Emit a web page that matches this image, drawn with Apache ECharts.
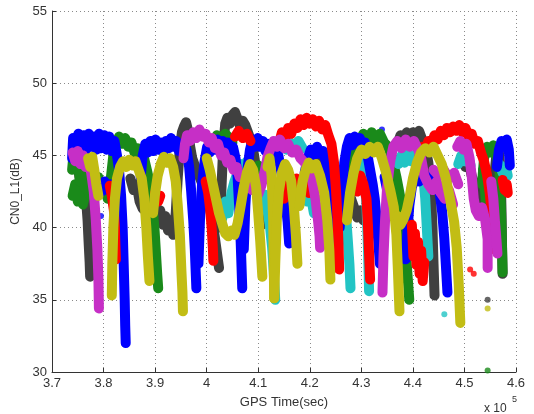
<!DOCTYPE html>
<html>
<head>
<meta charset="utf-8">
<title>CN0_L1</title>
<script src="https://cdn.jsdelivr.net/npm/echarts@6/dist/echarts.min.js"></script>
<style>
  html, body { margin: 0; padding: 0; background: #fff; }
  #chart { width: 534px; height: 414px; }
</style>
</head>
<body>
<div id="chart"></div>
<script>
// axis ticks (x in units of 1e5 sec)
var xTickLabels = ['3.7', '3.8', '3.9', '4', '4.1', '4.2', '4.3', '4.4', '4.5', '4.6'];
var yTickLabels = ['30', '35', '40', '45', '50', '55'];

// one array per colour, each pass of a satellite is a list of [time, cn0]
var grayPasses = [
  [[3.750,44.2],[3.754,43.4],[3.758,44.0],[3.762,42.8],[3.766,42.0],[3.769,40.5],[3.771,39.0],[3.773,37.6],[3.774,36.6]],
  [[3.852,43.4],[3.858,42.6],[3.864,43.0],[3.870,41.8],[3.876,41.3]],
  [[3.905,40.6],[3.910,41.2],[3.915,40.2],[3.920,40.8],[3.925,39.8],[3.930,40.4],[3.935,39.5],[3.940,41.0],[3.944,43.5],[3.948,45.5],[3.952,46.6],[3.956,47.0],[3.960,47.3],[3.964,46.7],[3.968,45.6],[3.972,44.8],[3.978,44.2],[3.985,43.6],[3.992,43.0],[4.000,42.2],[4.008,41.0],[4.014,39.8],[4.019,38.5],[4.024,37.2]],
  [[4.026,40.0],[4.029,43.0],[4.032,45.5],[4.036,47.2],[4.040,47.6],[4.045,47.2],[4.050,47.8],[4.055,48.0],[4.060,47.5],[4.065,47.0],[4.070,47.4],[4.075,47.1],[4.080,46.6],[4.086,46.0],[4.092,45.0],[4.097,43.8],[4.101,42.5],[4.105,41.2],[4.108,40.2]],
  [[4.214,45.2],[4.220,44.6],[4.225,43.4],[4.230,42.2],[4.234,41.3]],
  [[4.268,43.2],[4.274,42.6],[4.280,42.0],[4.286,41.4],[4.292,40.7],[4.298,41.2],[4.304,40.5]],
  [[4.370,45.8],[4.376,46.4],[4.382,45.9],[4.388,46.6],[4.394,46.0],[4.400,46.6],[4.406,46.1],[4.412,46.7],[4.418,46.1],[4.424,45.6],[4.430,44.5],[4.435,42.5],[4.438,40.0],[4.440,37.5],[4.442,35.3]],
  [[4.496,44.8],[4.502,44.2],[4.508,44.6],[4.514,43.6],[4.520,43.0],[4.526,42.4],[4.532,41.8],[4.537,41.6]],
  [[4.556,43.0],[4.562,45.0],[4.566,45.5],[4.570,44.0],[4.572,41.0],[4.573,38.5],[4.574,36.8]]
];

var greenPasses = [
  [[3.740,42.2],[3.745,43.0],[3.750,41.8],[3.755,42.6],[3.760,41.6],[3.765,42.4]],
  [[3.739,44.0],[3.742,45.2],[3.746,44.0],[3.750,44.8],[3.754,43.2],[3.758,44.0],[3.762,42.8],[3.766,43.4],[3.772,42.3],[3.778,43.2],[3.784,42.6],[3.790,43.5],[3.796,42.4],[3.802,42.8],[3.808,42.0],[3.814,43.4],[3.819,45.0],[3.824,45.8],[3.830,46.3],[3.836,45.8],[3.842,46.2],[3.848,45.6],[3.854,45.9],[3.860,45.2],[3.866,45.5],[3.872,44.8],[3.878,44.9],[3.884,44.0],[3.890,43.0],[3.895,41.5],[3.899,39.8],[3.902,38.0],[3.904,36.8],[3.906,35.8]],
  [[4.020,46.4],[4.028,46.1],[4.036,46.5],[4.044,46.2],[4.050,45.9]],
  [[4.100,44.3],[4.106,43.8],[4.112,44.2],[4.118,43.5]],
  [[4.262,41.2],[4.268,42.5],[4.274,43.8],[4.280,44.6],[4.288,45.6],[4.296,46.0],[4.304,46.5],[4.312,46.0],[4.320,46.6],[4.328,46.1],[4.336,46.5],[4.344,45.9],[4.352,45.6],[4.360,44.8],[4.368,43.5],[4.376,42.0],[4.382,40.0],[4.387,38.0],[4.390,36.5],[4.393,35.0]],
  [[4.534,43.0],[4.538,44.8],[4.544,45.6],[4.550,45.2],[4.556,45.7],[4.562,45.0],[4.568,44.0],[4.571,41.0],[4.573,38.5],[4.574,36.9]],
  [[4.536,44.0],[4.540,42.5],[4.543,41.0],[4.545,39.9]]
];

var cyanPasses = [
  [[4.030,40.6],[4.036,41.8],[4.042,41.0],[4.048,42.4],[4.054,43.2],[4.060,43.8],[4.066,44.4],[4.072,44.0],[4.078,44.6],[4.084,44.2],[4.090,43.8]],
  [[4.100,42.6],[4.106,42.0],[4.112,42.3],[4.118,41.2],[4.123,40.0],[4.127,38.6],[4.130,37.0],[4.133,35.0]],
  [[4.155,45.4],[4.162,45.9],[4.170,45.6],[4.178,46.0],[4.186,45.5]],
  [[4.188,42.6],[4.195,41.8],[4.202,42.2],[4.208,41.0]],
  [[4.262,43.6],[4.266,42.4],[4.270,41.0],[4.274,39.0],[4.277,37.4],[4.279,35.8]],
  [[4.300,44.6],[4.306,43.6],[4.310,41.5],[4.313,38.5],[4.315,35.6]],
  [[4.372,44.4],[4.378,45.0],[4.384,44.5],[4.390,45.1],[4.396,44.6],[4.402,45.0],[4.408,44.3],[4.414,44.6],[4.420,43.6],[4.424,42.0],[4.427,40.0],[4.430,38.0]],
  [[4.488,44.4],[4.494,45.0],[4.500,44.6],[4.506,45.0],[4.512,44.3]],
  [[4.568,44.4],[4.574,43.8],[4.580,44.2],[4.584,43.6]]
];

var bluePasses = [
  [[3.739,44.8],[3.741,46.2],[3.746,45.4],[3.751,46.5],[3.756,45.5],[3.761,46.4],[3.766,45.4],[3.771,46.5],[3.776,45.6],[3.781,46.3],[3.786,45.4],[3.791,46.5],[3.796,45.5],[3.801,46.4],[3.806,45.4],[3.811,46.3],[3.816,45.3],[3.821,46.0],[3.826,45.0],[3.830,44.0],[3.834,42.2],[3.837,40.0],[3.839,37.5],[3.841,35.0],[3.842,33.2],[3.843,32.0]],
  [[3.796,42.5],[3.802,43.2],[3.808,42.6],[3.814,43.0],[3.818,42.0]],
  [[3.872,43.5],[3.876,45.0],[3.881,45.8],[3.886,45.2],[3.891,46.0],[3.896,45.3],[3.901,46.1],[3.906,45.4],[3.911,45.9],[3.916,45.2],[3.921,46.0],[3.926,45.5],[3.931,46.2],[3.936,45.6],[3.941,46.0],[3.946,45.3],[3.951,45.8],[3.956,45.0],[3.961,45.4],[3.966,44.2],[3.970,42.5],[3.974,40.5],[3.977,38.5],[3.980,35.8]],
  [[3.984,37.5],[3.987,40.5],[3.991,43.0],[3.996,44.6],[4.001,45.6],[4.006,45.2],[4.011,46.0],[4.016,45.4],[4.021,46.1],[4.026,45.5],[4.031,46.0],[4.036,45.4],[4.041,45.9],[4.046,45.2],[4.051,45.6],[4.056,44.8],[4.060,43.5],[4.063,41.5],[4.066,39.0],[4.069,35.8]],
  [[4.072,38.5],[4.075,41.5],[4.079,44.0],[4.084,45.4],[4.089,46.1],[4.094,45.6],[4.099,46.2],[4.104,45.6],[4.109,46.0],[4.114,45.3],[4.119,45.8],[4.124,45.2],[4.129,45.5],[4.134,44.8],[4.139,45.0],[4.144,44.0],[4.149,43.0],[4.153,41.8],[4.157,40.4],[4.160,38.9]],
  [[4.190,43.8],[4.196,44.8],[4.202,45.4],[4.208,45.0],[4.214,45.6],[4.220,45.1],[4.226,45.3],[4.232,44.4],[4.238,43.4],[4.243,41.8],[4.247,40.0],[4.250,38.2]],
  [[4.258,40.0],[4.262,42.5],[4.267,44.5],[4.272,45.6],[4.277,46.2],[4.282,45.7],[4.287,46.3],[4.292,45.8],[4.297,46.2],[4.302,45.6],[4.307,45.9],[4.312,45.0],[4.317,44.0],[4.322,43.0],[4.326,42.0],[4.330,40.5],[4.333,39.0],[4.336,37.5]],
  [[4.345,43.5],[4.350,42.6],[4.354,41.5],[4.357,40.8]],
  [[4.386,37.8],[4.389,39.5],[4.393,41.5],[4.398,42.8],[4.405,43.6],[4.412,43.2],[4.420,43.8],[4.428,43.2],[4.436,43.6],[4.444,43.0],[4.452,42.4],[4.457,41.0],[4.461,39.2],[4.464,37.4],[4.467,35.5]],
  [[4.563,44.2],[4.567,45.4],[4.572,46.0],[4.577,45.6],[4.582,46.1],[4.586,45.4],[4.588,44.3]]
];

var redPasses = [
  [[3.812,42.9],[3.816,42.2],[3.820,41.2],[3.822,40.0],[3.823,38.8],[3.824,37.8]],
  [[3.900,42.4],[3.906,41.8],[3.910,42.2]],
  [[3.998,43.2],[4.003,42.4],[4.007,41.2],[4.010,39.8],[4.012,38.6],[4.013,37.7]],
  [[4.055,46.3],[4.062,46.7],[4.070,46.2],[4.078,46.5],[4.085,46.0]],
  [[4.150,42.0],[4.158,43.2],[4.166,42.6],[4.174,43.4],[4.182,42.8],[4.190,43.4],[4.198,42.4]],
  [[4.140,45.8],[4.146,46.6],[4.152,46.2],[4.158,46.9],[4.164,46.5],[4.170,47.2],[4.176,46.9],[4.182,47.5],[4.188,47.1],[4.194,47.6],[4.200,47.2],[4.206,47.5],[4.212,47.0],[4.218,47.4],[4.224,46.8],[4.230,47.1],[4.236,46.4],[4.242,45.8],[4.247,44.5],[4.251,42.5],[4.254,40.5],[4.256,38.5],[4.257,37.1]],
  [[4.292,42.5],[4.298,43.6],[4.304,43.0],[4.310,42.0],[4.313,40.0],[4.315,38.2],[4.317,36.4]],
  [[4.398,40.2],[4.401,38.0],[4.404,39.6],[4.407,37.4],[4.410,39.0],[4.413,36.8],[4.416,38.4],[4.419,36.3],[4.422,37.6]],
  [[4.412,44.8],[4.418,45.6],[4.424,45.3],[4.430,46.0],[4.436,45.8],[4.442,46.4],[4.448,46.1],[4.454,46.7],[4.460,46.4],[4.466,46.9],[4.472,46.6],[4.478,47.0],[4.484,46.7],[4.490,47.1],[4.496,46.6],[4.502,46.9],[4.508,46.3],[4.514,46.5],[4.520,45.8],[4.526,46.0],[4.532,45.2],[4.538,44.6],[4.544,43.6],[4.549,42.4],[4.553,41.0],[4.556,39.6],[4.558,38.5]],
  [[4.574,43.3],[4.578,42.6],[4.582,43.0],[4.584,42.4]]
];

var magentaPasses = [
  [[3.740,45.2],[3.745,44.6],[3.750,45.3],[3.755,44.4],[3.760,45.0],[3.765,44.2],[3.770,44.6],[3.776,43.8],[3.781,42.5],[3.785,40.5],[3.788,38.5],[3.790,36.5],[3.791,34.4]],
  [[3.955,44.8],[3.958,45.8],[3.962,46.4],[3.968,46.0],[3.974,46.6],[3.980,46.2],[3.986,46.8],[3.992,46.3],[3.998,46.5],[4.004,45.9],[4.010,46.2],[4.016,45.5],[4.022,45.8],[4.028,45.0],[4.034,45.2],[4.040,44.5],[4.046,44.7],[4.052,44.0],[4.058,44.2],[4.064,43.5],[4.070,43.6],[4.076,43.0],[4.082,43.1],[4.088,42.6],[4.094,42.8],[4.100,42.3],[4.106,42.9],[4.112,43.8],[4.118,44.9],[4.124,45.5],[4.130,46.0],[4.136,45.6],[4.142,46.1],[4.150,45.5],[4.158,45.8],[4.166,45.2],[4.174,45.4],[4.182,44.8],[4.190,44.5],[4.198,44.0],[4.205,43.2],[4.211,42.0],[4.216,40.5],[4.219,39.4],[4.220,38.6]],
  [[4.341,35.5],[4.343,38.0],[4.346,40.5],[4.350,42.8],[4.356,44.6],[4.362,45.6],[4.370,46.0],[4.378,45.5],[4.386,46.1],[4.394,45.6],[4.402,46.0],[4.410,45.4],[4.416,44.8],[4.422,43.6],[4.430,43.0],[4.438,42.6],[4.446,43.2],[4.454,42.4],[4.462,42.0],[4.470,42.6],[4.478,41.6]],
  [[4.440,44.0],[4.450,43.6],[4.460,44.0],[4.470,43.4],[4.480,43.8],[4.488,43.0]],
  [[4.486,45.6],[4.492,46.0],[4.498,45.4],[4.504,45.8],[4.510,44.8],[4.514,43.6],[4.518,42.0],[4.522,41.2],[4.528,40.8],[4.534,41.4],[4.540,40.6],[4.545,39.2],[4.545,37.2]],
  [[4.552,43.2],[4.556,42.0],[4.559,40.5],[4.562,39.2],[4.564,38.2]]
];

var yellowPasses = [
  [[3.770,44.8],[3.774,44.2],[3.778,44.9],[3.782,44.0],[3.786,43.0],[3.790,42.2]],
  [[3.816,35.3],[3.817,37.5],[3.819,40.0],[3.822,42.0],[3.826,43.4],[3.832,44.2],[3.838,44.6],[3.844,44.2],[3.850,44.7],[3.856,44.3],[3.862,44.6],[3.868,44.0],[3.874,43.4],[3.879,42.0],[3.883,40.0],[3.886,38.0],[3.889,36.3]],
  [[3.896,41.0],[3.900,42.4],[3.905,43.6],[3.911,44.4],[3.917,44.9],[3.923,44.5],[3.929,44.8],[3.935,44.2],[3.940,43.2],[3.944,41.5],[3.948,39.5],[3.951,37.0],[3.953,35.5],[3.954,34.2]],
  [[4.000,44.8],[4.006,44.0],[4.012,43.0],[4.018,42.0],[4.024,41.0],[4.030,40.3],[4.036,39.6],[4.042,39.4],[4.048,39.8],[4.054,39.5],[4.060,40.3],[4.066,41.5],[4.072,42.8],[4.078,43.8],[4.084,44.4],[4.090,44.0],[4.096,42.8],[4.100,41.0],[4.104,39.0],[4.108,36.6]],
  [[4.118,44.2],[4.122,44.8],[4.126,43.6],[4.129,40.5],[4.131,35.1]],
  [[4.131,35.1],[4.133,37.5],[4.136,40.5],[4.140,42.5],[4.146,43.8],[4.152,44.4],[4.158,44.0],[4.164,43.2],[4.169,41.5],[4.173,39.5],[4.176,37.5]],
  [[4.180,41.5],[4.186,43.2],[4.192,44.0],[4.198,44.5],[4.204,44.1],[4.212,44.4],[4.220,43.6],[4.228,42.4],[4.234,40.5],[4.238,38.4],[4.240,36.4]],
  [[4.272,40.5],[4.278,42.4],[4.285,43.8],[4.292,44.8],[4.300,45.4],[4.308,45.1],[4.316,45.6],[4.324,45.2],[4.332,45.6],[4.340,44.8],[4.348,43.8],[4.356,42.6],[4.363,41.4],[4.368,39.5],[4.371,37.0],[4.374,34.2]],
  [[4.370,40.8],[4.376,40.2],[4.382,40.6],[4.388,41.2],[4.394,42.2],[4.400,43.4],[4.408,44.5],[4.416,45.2],[4.424,45.5],[4.432,45.2],[4.440,45.6],[4.448,45.0],[4.456,44.4],[4.464,43.4],[4.472,42.0],[4.480,40.4],[4.485,38.6],[4.489,36.0],[4.492,33.4]]
];

// loose samples that sit apart from the tracks: [time, cn0, colour]
var strayDots = [
  [3.780, 37.4, 'blue'], [3.795, 40.8, 'blue'], [4.340, 46.8, 'blue'],
  [4.174, 47.3, 'green'], [4.545, 37.8, 'green'], [4.545, 30.1, 'green'],
  [4.511, 37.1, 'red'], [4.518, 36.8, 'red'],
  [4.461, 34.0, 'cyan'],
  [4.545, 35.0, 'gray'], [4.545, 34.4, 'yellow']
];

var satColors = {
  gray: '#404040',
  green: '#1a8a1a',
  cyan: '#22c4c4',
  blue: '#0000ff',
  red: '#ff0000',
  magenta: '#c62fc6',
  yellow: '#c2bd14'
};

// draw order, later ones sit on top
var passGroups = [
  ['gray', grayPasses],
  ['green', greenPasses],
  ['cyan', cyanPasses],
  ['blue', bluePasses],
  ['red', redPasses],
  ['magenta', magentaPasses],
  ['yellow', yellowPasses]
];

var textColor = '#333333';
var fontName = '"Liberation Sans", Arial, sans-serif';

var series = [];
passGroups.forEach(function (g) {
  g[1].forEach(function (pass) {
    series.push({
      type: 'line',
      data: pass,
      symbol: 'none',
      silent: true,
      lineStyle: { width: 10, color: satColors[g[0]], cap: 'round', join: 'round' }
    });
  });
});
series.push({
  type: 'scatter',
  symbol: 'circle',
  symbolSize: 6,
  silent: true,
  data: strayDots.map(function (d) {
    return { value: [d[0], d[1]], itemStyle: { color: satColors[d[2]] } };
  })
});

var chart = echarts.init(document.getElementById('chart'));
var option = {
  animation: false,
  backgroundColor: '#ffffff',
  grid: { left: 52, right: 18, top: 11, bottom: 41 },
  xAxis: {
    type: 'value',
    min: 3.7,
    max: 4.6,
    interval: 0.1,
    name: 'GPS Time(sec)',
    nameLocation: 'middle',
    nameGap: 24,
    nameTextStyle: { color: textColor, fontSize: 13, fontFamily: fontName },
    axisLine: { show: true, onZero: false, lineStyle: { color: textColor, width: 1 } },
    axisTick: { show: true, inside: true, length: 4, lineStyle: { color: textColor } },
    axisLabel: {
      color: textColor, fontSize: 13, fontFamily: fontName, margin: 5,
      formatter: function (v) {
        return xTickLabels[Math.round((v - 3.7) * 10)];
      }
    },
    splitLine: { show: true, lineStyle: { color: '#8a8a8a', type: [1, 3], width: 1 } }
  },
  yAxis: {
    type: 'value',
    min: 30,
    max: 55,
    interval: 5,
    name: 'CN0_L1(dB)',
    nameLocation: 'middle',
    nameGap: 24,
    nameTextStyle: { color: textColor, fontSize: 12, fontFamily: fontName },
    axisLine: { show: true, lineStyle: { color: textColor, width: 1 } },
    axisTick: { show: true, inside: true, length: 4, lineStyle: { color: textColor } },
    axisLabel: {
      color: textColor, fontSize: 13, fontFamily: fontName, margin: 5,
      formatter: function (v) {
        return yTickLabels[Math.round((v - 30) / 5)];
      }
    },
    splitLine: { show: true, lineStyle: { color: '#8a8a8a', type: [1, 3], width: 1 } }
  },
  graphic: [
    { type: 'text', left: 484, top: 403, style: { text: 'x 10', fill: textColor, fontSize: 12, fontFamily: fontName } },
    { type: 'text', left: 512, top: 395, style: { text: '5', fill: textColor, fontSize: 9, fontFamily: fontName } }
  ],
  series: series
};
chart.setOption(option);
</script>
</body>
</html>
